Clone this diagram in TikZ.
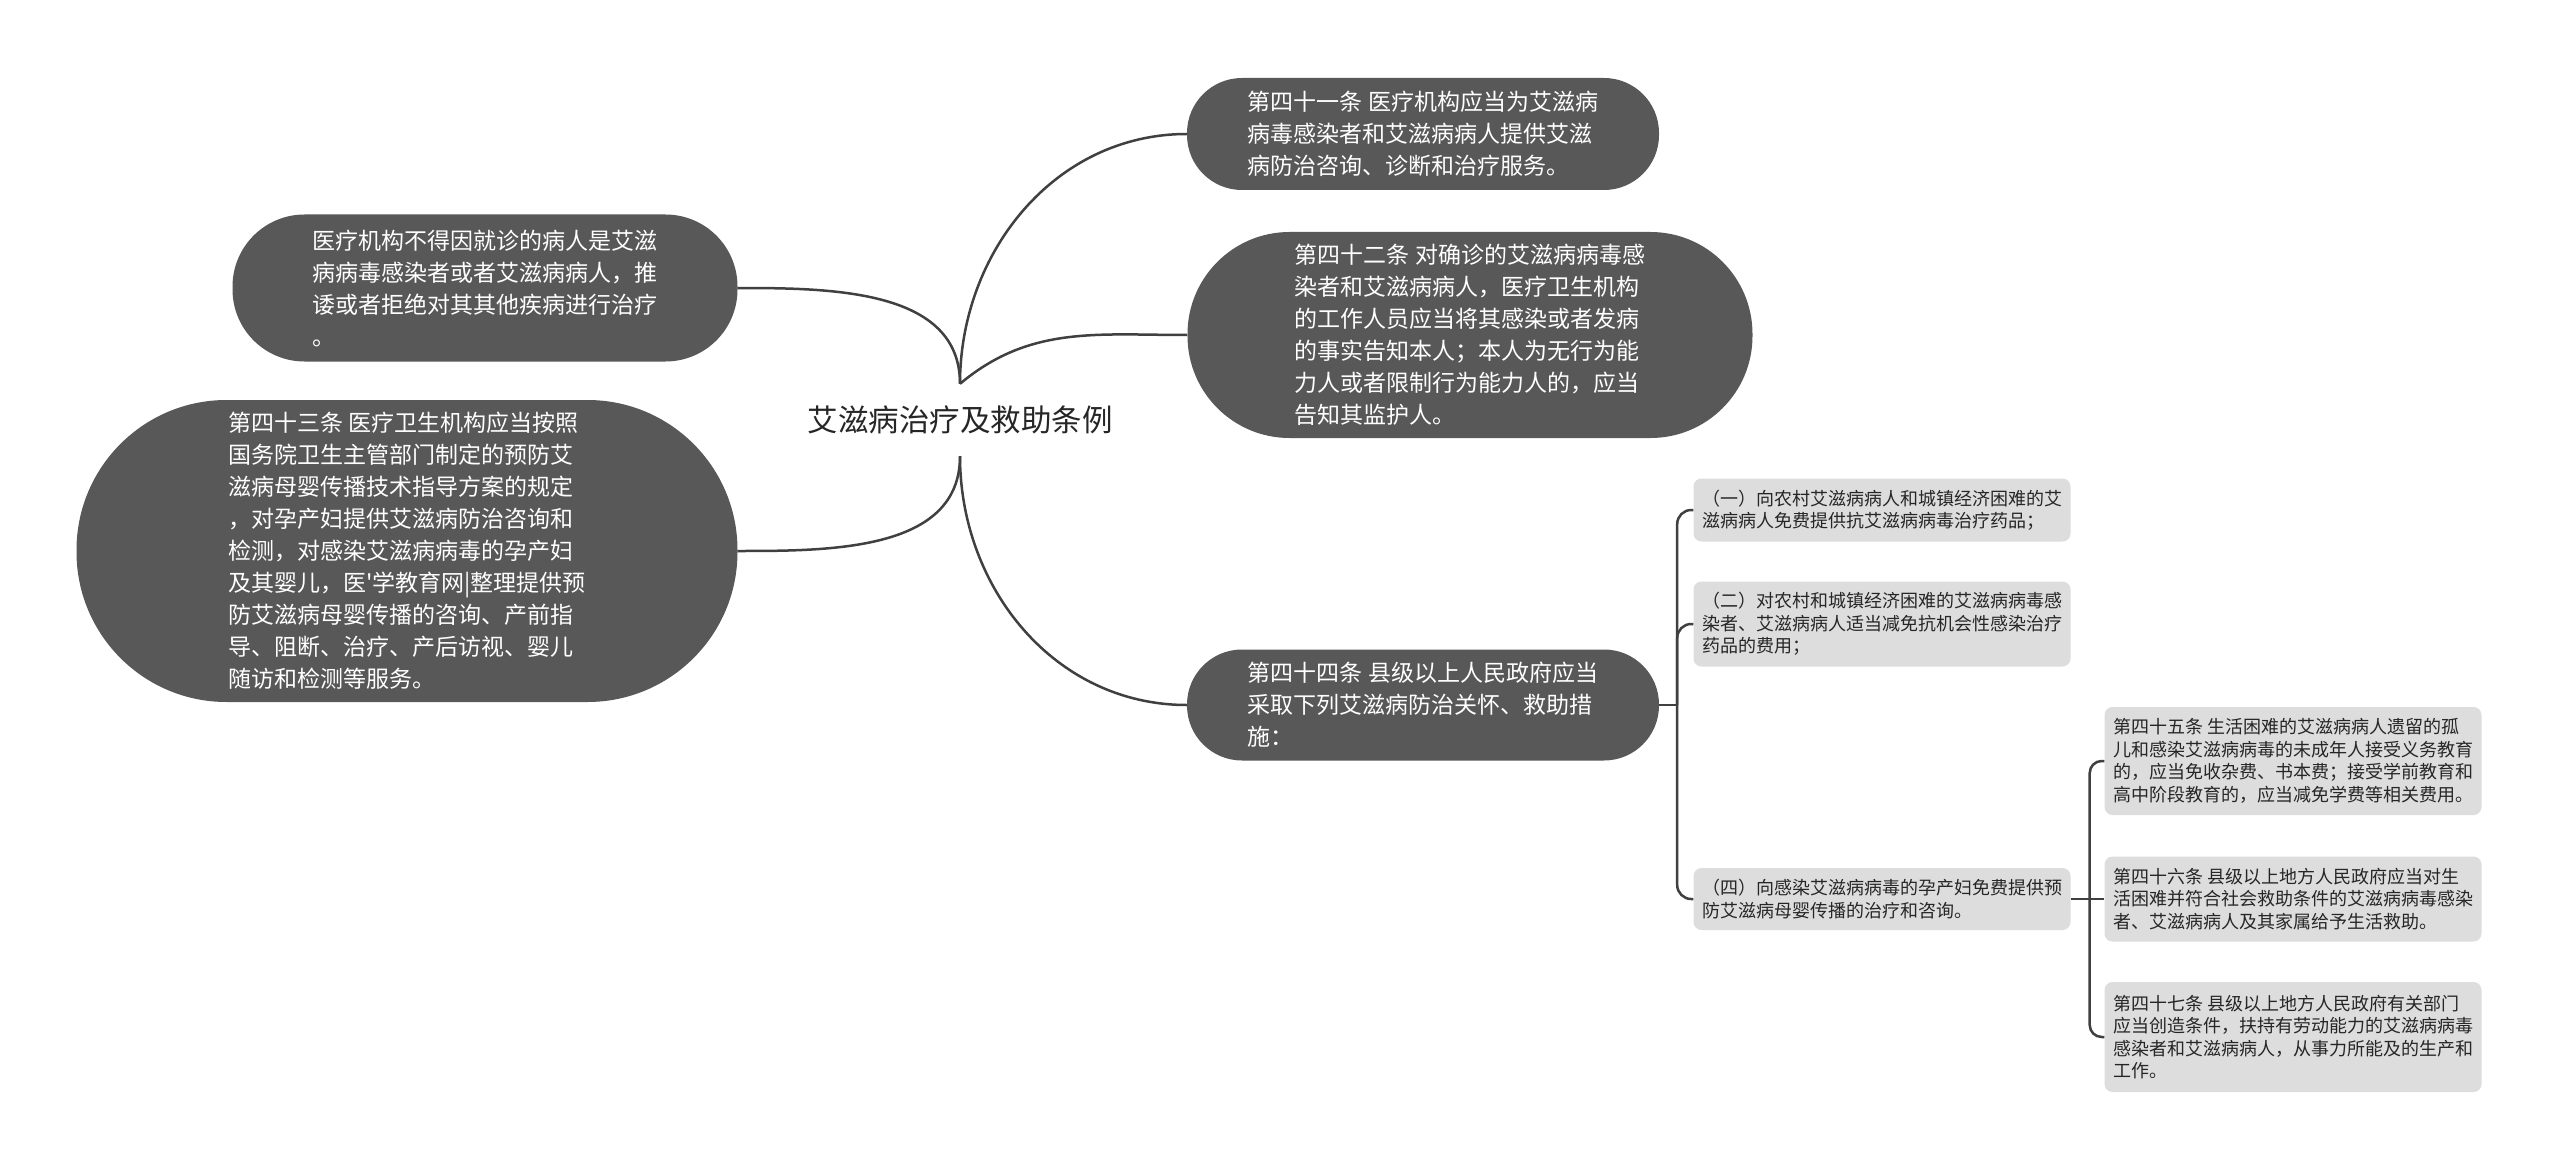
\documentclass[tikz,border=0pt]{standalone}
\usepackage{fontspec}
\newfontfamily\zhfont{Noto Sans CJK SC}
\usetikzlibrary{positioning}
\definecolor{topicgray}{RGB}{88,88,88}
\definecolor{leafgray}{RGB}{221,221,221}
\definecolor{linegray}{RGB}{64,64,64}
\definecolor{inkgray}{RGB}{38,38,38}
\tikzset{
  topic/.style={fill=topicgray, text=white, align=left, inner sep=0pt,
    font=\zhfont\fontsize{23}{32}\selectfont},
  leaf/.style={fill=leafgray, text=inkgray, align=left, inner sep=0pt,
    rounded corners=8pt, minimum width=377pt,
    font=\zhfont\fontsize{18}{22.5}\selectfont},
  link/.style={draw=linegray, line width=2.5pt},
}

\begin{document}
\begin{tikzpicture}[x=1pt,y=-1pt]
\useasboundingbox[fill=white] (0,0) rectangle (2560,1169);
% central topic
\node[font=\zhfont\fontsize{30.5}{36}\selectfont, text=inkgray, minimum height=72pt] (root) at (960,420) {艾滋病治疗及救助条例};

% left side
\node[topic, minimum width=505pt, minimum height=147pt, rounded corners=72pt] (refuse) at (485,288)
  {医疗机构不得因就诊的病人是艾滋\\病病毒感染者或者艾滋病病人，推\\诿或者拒绝对其其他疾病进行治疗\\。};
\node[topic, minimum width=661pt, minimum height=302pt, rounded corners=150pt] (art43) at (407,551)
  {第四十三条 医疗卫生机构应当按照\\国务院卫生主管部门制定的预防艾\\滋病母婴传播技术指导方案的规定\\，对孕产妇提供艾滋病防治咨询和\\检测，对感染艾滋病病毒的孕产妇\\及其婴儿，医'学教育网|整理提供预\\防艾滋病母婴传播的咨询、产前指\\导、阻断、治疗、产后访视、婴儿\\随访和检测等服务。};

% right side
\node[topic, minimum width=472pt, minimum height=112pt, rounded corners=55pt] (art41) at (1423,134)
  {第四十一条 医疗机构应当为艾滋病\\病毒感染者和艾滋病病人提供艾滋\\病防治咨询、诊断和治疗服务。};
\node[topic, minimum width=565pt, minimum height=206pt, rounded corners=102pt] (art42) at (1470,335)
  {第四十二条 对确诊的艾滋病病毒感\\染者和艾滋病病人，医疗卫生机构\\的工作人员应当将其感染或者发病\\的事实告知本人；本人为无行为能\\力人或者限制行为能力人的，应当\\告知其监护人。};
\node[topic, minimum width=472pt, minimum height=111pt, rounded corners=55pt] (art44) at (1423,705)
  {第四十四条 县级以上人民政府应当\\采取下列艾滋病防治关怀、救助措\\施：};

% measures under art. 44
\node[leaf, minimum height=63pt] (item1) at (1882,510)
  {（一）向农村艾滋病病人和城镇经济困难的艾\\滋病病人免费提供抗艾滋病病毒治疗药品；};
\node[leaf, minimum height=85pt] (item2) at (1882,624)
  {（二）对农村和城镇经济困难的艾滋病病毒感\\染者、艾滋病病人适当减免抗机会性感染治疗\\药品的费用；};
\node[leaf, minimum height=62pt] (item4) at (1882,899)
  {（四）向感染艾滋病病毒的孕产妇免费提供预\\防艾滋病母婴传播的治疗和咨询。};

\node[leaf, minimum height=108pt] (art45) at (2293,761)
  {第四十五条 生活困难的艾滋病病人遗留的孤\\儿和感染艾滋病病毒的未成年人接受义务教育\\的，应当免收杂费、书本费；接受学前教育和\\高中阶段教育的，应当减免学费等相关费用。};
\node[leaf, minimum height=85pt] (art46) at (2293,899)
  {第四十六条 县级以上地方人民政府应当对生\\活困难并符合社会救助条件的艾滋病病毒感染\\者、艾滋病病人及其家属给予生活救助。};
\node[leaf, minimum height=110pt] (art47) at (2293,1037)
  {第四十七条 县级以上地方人民政府有关部门\\应当创造条件，扶持有劳动能力的艾滋病病毒\\感染者和艾滋病病人，从事力所能及的生产和\\工作。};

% curved links from the centre
\draw[link] (root.north) to[out=90,in=180] (art41.west);
\draw[link] (root.north) to[out=40,in=180] (art42.west);
\draw[link] (root.south) to[out=-90,in=180] (art44.west);
\draw[link] (refuse.east) to[out=0,in=90] (root.north);
\draw[link] (art43.east) to[out=0,in=-90] (root.south);

% brackets
\coordinate (fork44) at ([xshift=18pt]art44.east);
\draw[link] (art44.east) -- (fork44);
\foreach \m in {item1,item2,item4}
  \draw[link, rounded corners=14pt] (fork44) |- (\m.west);
\coordinate (fork4) at ([xshift=19pt]item4.east);
\draw[link] (item4.east) -- (art46.west);
\foreach \m in {art45,art47}
  \draw[link, rounded corners=12pt] (fork4) |- (\m.west);
\end{tikzpicture}
\end{document}
